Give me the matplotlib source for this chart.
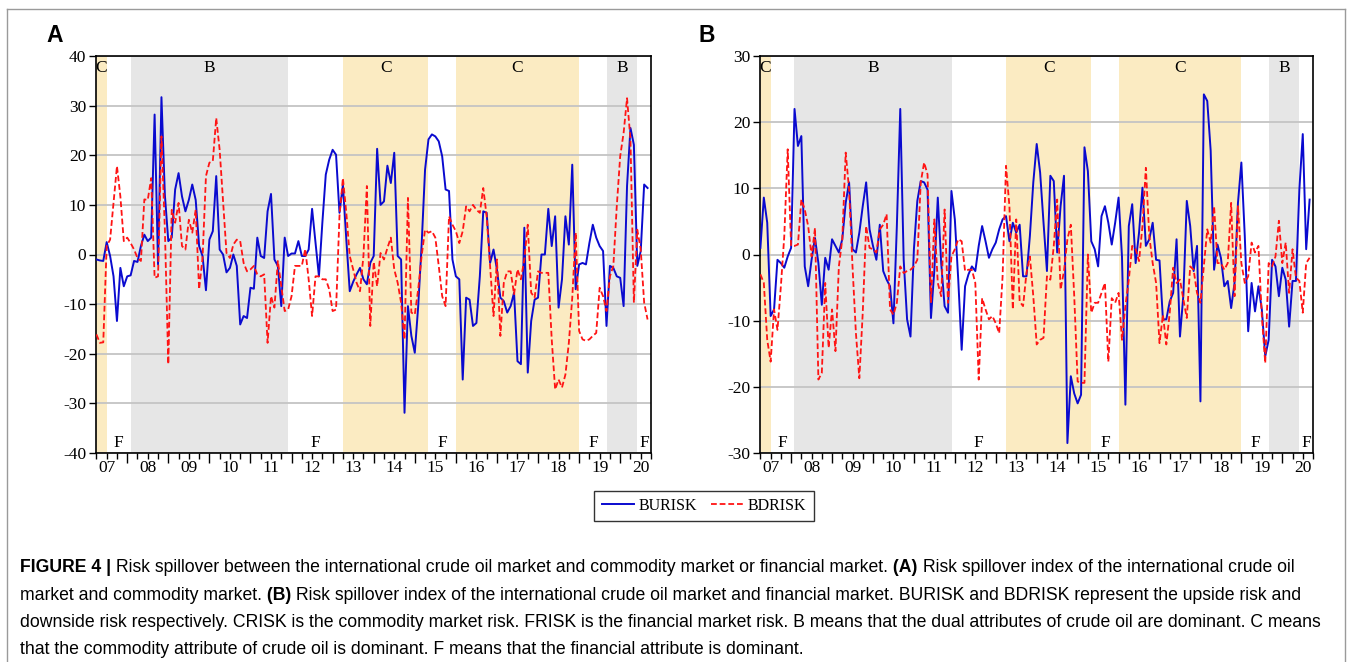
import matplotlib
matplotlib.use('Agg')
import matplotlib.pyplot as plt
import numpy as np
from matplotlib import font_manager
from matplotlib.lines import Line2D
from matplotlib.transforms import IdentityTransform

# ---------------- data (monthly, from 2007-04) ----------------
burisk_a = [-1.0, -1.2, -1.3, 2.5, -0.3, -4.4, -13.4, -2.7, -6.4, -4.4, -4.2, -1.3,
            -1.5, 1.7, 4.0, 2.7, 3.4, 28.2, -2.0, 31.7, 12.0, 2.7, 3.4, 13.1,
            16.4, 11.7, 8.7, 11.0, 14.1, 11.0, 1.7, -0.3, -7.2, 3.0, 4.7, 15.8,
            1.0, 0.0, -3.6, -2.7, 0.0, -2.3, -14.1, -12.4, -12.8, -6.7, -6.9, 3.4,
            -0.3, -0.7, 8.7, 12.2, -1.0, -2.3, -10.4, 3.4, -0.3, 0.2, 0.2, 2.7,
            -0.3, -0.3, 1.0, 9.2, 2.3, -4.4, 6.4, 16.1, 19.1, 21.1, 20.1, 8.4,
            14.0, 3.0, -7.4, -5.5, -4.0, -2.7, -5.0, -6.0, -1.7, -0.3, 21.3, 10.0,
            10.7, 17.9, 14.4, 20.5, -0.3, -1.0, -31.9, -10.4, -16.4, -19.8, -10.4, 2.0,
            17.1, 23.2, 24.2, 23.8, 22.8, 19.8, 13.1, 12.8, -1.0, -4.4, -5.0, -25.2,
            -8.7, -9.1, -14.4, -13.8, -4.4, 8.7, 8.4, -1.7, 1.0, -3.0, -8.7, -9.4,
            -11.7, -10.4, -7.7, -21.5, -22.1, 5.4, -23.8, -13.4, -9.1, -8.7, 0.0, 0.0,
            9.2, 1.7, 7.7, -10.7, -5.0, 7.7, 2.0, 18.1, -7.0, -2.0, -1.7, -2.0,
            2.3, 6.0, 3.4, 1.7, 0.7, -14.4, -2.3, -2.7, -4.4, -4.7, -10.4, 13.8,
            25.5, 22.1, -2.3, 0.7, 14.1, 13.4]
bdrisk_a = [-16.1, -17.8, -17.7, 1.7, 3.0, 10.4, 17.8, 11.7, 2.7, 3.4, 2.3, 1.0,
            -0.7, -1.3, 11.1, 11.0, 15.4, -4.7, -4.4, 23.8, 5.0, -22.1, 9.0, 6.4,
            10.4, 1.7, 1.0, 7.0, 4.4, 9.0, -7.0, -0.7, 15.8, 18.5, 18.8, 27.5,
            21.1, 10.7, 0.3, -0.7, 2.0, 3.0, 2.7, -1.7, -3.4, -3.0, -2.3, -4.0,
            -4.4, -4.0, -17.8, -8.4, -10.7, -1.3, -6.4, -11.4, -11.1, -8.4, -2.3, -2.3,
            -2.3, 1.1, -5.0, -12.4, -4.4, -4.4, -5.0, -5.0, -7.0, -11.4, -11.1, 7.7,
            15.4, 8.4, -0.3, -3.0, -5.7, -7.4, -0.3, 13.8, -14.4, -1.5, -6.4, 0.3,
            -1.0, 1.3, 3.4, -3.0, -5.7, -9.7, -17.1, 11.4, -11.7, -12.1, -7.0, -0.3,
            5.0, 4.4, 4.7, 3.4, -2.3, -8.4, -10.4, 7.7, 6.0, 4.7, 2.3, 4.7,
            9.7, 8.7, 10.0, 9.0, 8.4, 13.4, 7.7, -2.3, -12.4, -1.0, -16.4, -5.7,
            -3.4, -3.4, -8.0, -3.0, -5.0, -1.0, 6.0, -7.7, -8.7, -3.4, -3.7, -3.7,
            -3.7, -17.1, -27.2, -25.2, -26.8, -24.2, -17.8, -8.7, 4.4, -15.4, -17.1, -17.4,
            -17.1, -16.4, -15.8, -6.7, -8.4, -11.4, -4.4, -2.3, 9.7, 19.8, 24.5, 31.5,
            23.2, -9.7, 5.0, 1.0, -9.7, -13.1]
burisk_b = [1.0, 8.6, 4.8, -9.3, -8.3, -0.8, -1.3, -2.0, -0.3, 1.0, 22.0, 16.4,
            17.9, -1.8, -4.8, -0.8, 2.5, -1.3, -7.6, -0.5, -2.3, 2.3, 1.3, 0.3,
            2.3, 7.8, 10.9, 0.8, 0.3, 3.3, 7.3, 10.9, 3.8, 1.3, -0.8, 4.5,
            -2.5, -3.8, -4.8, -10.4, 4.3, 22.0, -0.8, -9.8, -12.4, 0.8, 8.1, 11.1,
            10.9, 9.8, -9.6, -2.3, 8.6, -1.3, -7.8, -8.8, 9.6, 5.3, -3.8, -14.4,
            -4.8, -3.0, -1.8, -2.5, 1.3, 4.3, 2.0, -0.5, 0.8, 1.8, 3.8, 5.3,
            5.8, 2.0, 4.8, 3.3, 4.5, -3.3, -3.3, 2.8, 10.9, 16.7, 12.4, 4.8,
            -2.5, 11.9, 11.1, 0.3, 7.3, 11.9, -28.5, -18.4, -21.0, -22.5, -21.2, 16.2,
            12.6, 2.0, 0.8, -1.8, 5.8, 7.3, 4.8, 1.5, 4.8, 8.6, -0.3, -22.7,
            4.3, 7.6, -1.3, 3.3, 10.1, 1.3, 2.3, 4.8, -0.8, -0.9, -9.8, -9.8,
            -7.1, -5.8, 2.3, -12.4, -6.1, 8.1, 4.3, -2.5, 1.3, -22.2, 24.2, 23.2,
            15.7, -2.3, 1.5, -0.5, -4.8, -4.0, -8.1, -4.3, 7.8, 13.9, 2.8, -11.6,
            -4.3, -8.6, -4.8, -8.3, -15.4, -12.9, -0.8, -1.8, -6.3, -2.0, -3.8, -10.9,
            -4.0, -4.0, 9.8, 18.2, 0.8, 8.3]
bdrisk_b = [-3.0, -4.3, -12.9, -16.2, -8.3, -11.4, -4.8, 2.8, 15.9, 1.3, 1.3, 1.5,
            8.3, 6.8, 4.3, -0.3, 4.0, -18.9, -17.9, -4.3, -14.1, -8.3, -14.6, -1.8,
            2.3, 15.4, 9.8, -1.8, -11.9, -18.7, -8.8, 4.3, 1.0, 0.8, 0.3, 3.8,
            4.5, 6.1, -8.3, -9.1, -7.3, -1.8, -2.8, -2.5, -2.3, -1.8, -0.8, 10.9,
            13.9, 12.1, -7.3, 5.3, -4.3, -6.3, 6.8, -7.3, -0.3, 0.8, 2.3, 2.0,
            -2.5, -2.3, -2.3, -4.3, -18.9, -6.6, -8.3, -9.8, -9.3, -10.4, -11.9, -3.3,
            13.4, 7.3, -8.3, 5.3, -7.1, -7.8, -2.8, -0.3, -6.3, -13.6, -12.9, -12.6,
            -3.3, -3.8, 1.3, 8.3, -5.3, -2.5, 2.3, 4.5, -6.3, -19.2, -19.4, -19.4,
            0.0, -8.8, -7.3, -7.3, -5.8, -4.3, -16.2, -6.6, -7.3, -5.8, -12.9, -7.8,
            -3.8, 1.3, 0.8, -1.0, 4.3, 13.1, 2.8, -1.3, -4.3, -13.4, -9.1, -13.6,
            -8.8, -2.0, -4.3, -3.8, -6.8, -9.6, -1.8, -2.3, -5.8, -7.3, -1.8, 3.8,
            1.8, 7.3, -1.3, -1.3, -2.3, -1.3, 7.8, -6.3, 7.3, -1.3, -4.3, -3.3,
            1.8, 0.3, 1.3, -9.3, -16.4, -1.3, -1.8, -0.3, 5.1, -1.3, 1.8, -5.8,
            0.8, -3.5, -4.0, -8.8, -1.3, -0.5]

# regimes (decimal years): C commodity, B both, F financial
regime_start = [2007.24, 2007.5, 2008.08, 2011.92, 2013.25, 2015.33, 2016.0, 2019.0, 2019.67, 2020.42]
regime_end = regime_start[1:] + [2020.74]
regime_label = ['C', 'F', 'B', 'F', 'C', 'F', 'C', 'F', 'B', 'F']

year_labels = ['07', '08', '09', '10', '11', '12', '13', '14', '15', '16', '17', '18', '19', '20']

# ---------------- figure ----------------
W, H, DPI = 1354, 662, 100
plt.rcParams['axes.unicode_minus'] = False
serif = 'Liberation Serif'
names = {f.name for f in font_manager.fontManager.ttflist}
cap_font = 'Liberation Sans Narrow' if 'Liberation Sans Narrow' in names else 'Liberation Sans'

fig = plt.figure(figsize=(W / DPI, H / DPI), dpi=DPI)
shade = {'C': '#FBEBC2', 'B': '#E6E6E6'}


def make_axes(l, t, r, b):
    return fig.add_axes([l / W, 1 - b / H, (r - l) / W, (b - t) / H])


def draw_panel(ax, up, down, ylim):
    for s, e, lab in zip(regime_start, regime_end, regime_label):
        if lab in shade:
            ax.axvspan(s, e, color=shade[lab], lw=0, zorder=0)
        mid = (s + e) / 2
        if lab == 'F':
            ax.text(mid, 0.016, lab, transform=ax.get_xaxis_transform(), ha='center',
                    va='baseline', fontsize=12.5, family=serif, zorder=4)
        else:
            ax.text(mid, 0.99, lab, transform=ax.get_xaxis_transform(), ha='center',
                    va='top', fontsize=12.5, family=serif, zorder=4)
    t_up = 2007.25 + np.arange(len(up)) / 12
    t_dn = 2007.25 + np.arange(len(down)) / 12
    l1, = ax.plot(t_up, up, color='#0A0ACF', lw=1.4, zorder=3)
    l2, = ax.plot(t_dn, down, color='#FF1414', lw=1.3, ls=(0, (3.2, 1.6)), zorder=3)
    ax.set_xlim(2007.24, 2020.74)
    ax.set_ylim(*ylim)
    ax.set_yticks(np.arange(ylim[0], ylim[1] + 1, 10))
    ax.yaxis.grid(True, color='#C4C4C4', lw=1.3)
    years = np.arange(2008, 2021)
    quarters = [q for q in np.arange(2007.25, 2020.76, 0.25) if q % 1 != 0]
    ax.set_xticks(years)
    ax.set_xticks(quarters, minor=True)
    ax.tick_params(axis='x', which='major', length=7, width=1, labelbottom=False)
    ax.tick_params(axis='x', which='minor', length=4, width=1)
    ax.tick_params(axis='y', length=5, width=1, pad=2)
    for lbl in ax.get_yticklabels():
        lbl.set_family(serif)
        lbl.set_fontsize(12.5)
    for i, lab in enumerate(year_labels):
        ax.annotate(lab, xy=(2007.5 + i, 0), xycoords=ax.get_xaxis_transform(),
                    xytext=(0, -5), textcoords='offset points', ha='center', va='top',
                    fontsize=12.5, family=serif)
    for sp in ax.spines.values():
        sp.set_linewidth(1.2)
    return l1, l2


axA = make_axes(96, 56, 651, 453)
axB = make_axes(760, 56, 1313, 453)
hA = draw_panel(axA, burisk_a, bdrisk_a, (-40, 40))
draw_panel(axB, burisk_b, bdrisk_b, (-30, 30))

fig.text(46 / W, 1 - 36 / H, 'A', fontsize=16.5, fontweight='bold', family='Liberation Sans', va='center')
fig.text(698 / W, 1 - 36 / H, 'B', fontsize=16.5, fontweight='bold', family='Liberation Sans', va='center')

leg = fig.legend(hA, ['BURISK', 'BDRISK'], loc='center', bbox_to_anchor=(704 / W, 1 - 506 / H),
                 ncol=2, frameon=True, fancybox=False, edgecolor='black',
                 prop={'family': serif, 'size': 11.5}, handlelength=2.0, columnspacing=0.9,
                 borderpad=0.45, handletextpad=0.3)
leg.get_frame().set_linewidth(1.0)

# outer frame
frame_col = '#9A9A9A'
fig.add_artist(Line2D([7 / W, 7 / W], [0, 1 - 9 / H], transform=fig.transFigure, color=frame_col, lw=1))
fig.add_artist(Line2D([1345 / W, 1345 / W], [0, 1 - 9 / H], transform=fig.transFigure, color=frame_col, lw=1))
fig.add_artist(Line2D([7 / W, 1345 / W], [1 - 9 / H, 1 - 9 / H], transform=fig.transFigure, color=frame_col, lw=1))

# ---------------- caption ----------------
caption = [
    [('FIGURE 4 |', True), (' Risk spillover between the international crude oil market and commodity market or financial market.', False),
     (' (A)', True), (' Risk spillover index of the international crude oil', False)],
    [('market and commodity market.', False), (' (B)', True),
     (' Risk spillover index of the international crude oil market and financial market. BURISK and BDRISK represent the upside risk and', False)],
    [('downside risk respectively. CRISK is the commodity market risk. FRISK is the financial market risk. B means that the dual attributes of crude oil are dominant. C means', False)],
    [('that the commodity attribute of crude oil is dominant. F means that the financial attribute is dominant.', False)],
]
baselines = [572, 600, 627, 654]
renderer = fig.canvas.get_renderer()


def rich_line(x, ybase, parts, size, draw=True):
    x0 = x
    for txt, bold in parts:
        t = fig.text(x, H - ybase, txt, transform=IdentityTransform(), fontsize=size,
                     fontweight='bold' if bold else 'normal', family=cap_font,
                     ha='left', va='baseline')
        x += t.get_window_extent(renderer).width
        if not draw:
            t.remove()
    return x - x0


w10 = rich_line(20, 0, caption[2], 10, draw=False)
cap_size = 10 * 1305 / w10
for parts, yb in zip(caption, baselines):
    rich_line(20, yb, parts, cap_size)

fig.savefig('out.png', dpi=DPI)
